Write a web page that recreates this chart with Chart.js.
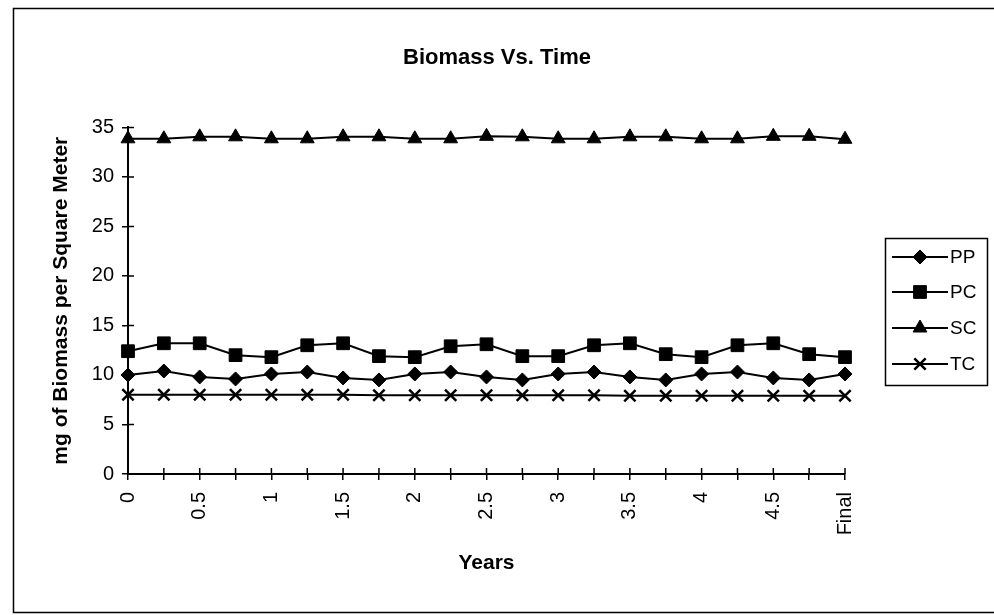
<!DOCTYPE html>
<html>
<head>
<meta charset="utf-8">
<title>Biomass Vs. Time</title>
<script src="https://cdn.jsdelivr.net/npm/chart.js@4.4.0/dist/chart.umd.min.js"></script>
<style>
  html, body { margin: 0; padding: 0; background: #fff; }
  #wrap { position: relative; width: 994px; height: 615px; }
</style>
</head>
<body>
<div id="wrap"><canvas id="biomassChart" width="994" height="615"></canvas></div>
<script>
// categories on the x axis (every quarter year, plus the final sample)
var years = ['0', '0.25', '0.5', '0.75', '1', '1.25', '1.5', '1.75', '2', '2.25',
	'2.5', '2.75', '3', '3.25', '3.5', '3.75', '4', '4.25', '4.5', '4.75', 'Final'];

// values (mg per square meter)
var pp = [10.0, 10.4, 9.8, 9.6, 10.1, 10.3, 9.7, 9.5, 10.1, 10.3,
	9.8, 9.5, 10.1, 10.3, 9.8, 9.5, 10.1, 10.3, 9.7, 9.5, 10.1];
var pc = [12.4, 13.2, 13.2, 12.0, 11.8, 13.0, 13.2, 11.9, 11.8, 12.9,
	13.1, 11.9, 11.9, 13.0, 13.2, 12.1, 11.8, 13.0, 13.2, 12.1, 11.8];
var sc = [33.85, 33.85, 34.05, 34.05, 33.85, 33.85, 34.05, 34.05, 33.85, 33.85,
	34.1, 34.05, 33.85, 33.85, 34.05, 34.05, 33.85, 33.85, 34.1, 34.1, 33.8];
var tc = [8.0, 8.0, 8.0, 8.0, 8.0, 8.0, 8.0, 7.95, 7.95, 7.95,
	7.95, 7.95, 7.95, 7.95, 7.9, 7.9, 7.9, 7.9, 7.9, 7.9, 7.9];

var seriesNames = ['PP', 'PC', 'SC', 'TC'];
var yMax = 35;
var yStep = 5;

var FONT = 'Arial, "Liberation Sans", sans-serif';

function series(label, data, style, radius, pointBorder) {
	return {
		label: label,
		data: data,
		borderColor: '#000',
		backgroundColor: '#000',
		borderWidth: 2,
		pointStyle: style,
		pointRadius: radius,
		pointBorderWidth: pointBorder,
		pointBackgroundColor: '#000',
		pointBorderColor: '#000',
		tension: 0,
		fill: false,
		clip: false
	};
}

// page frame around the whole chart, like the printed sheet
var framePlugin = {
	id: 'frame',
	beforeDraw: function (chart) {
		var ctx = chart.ctx;
		ctx.save();
		ctx.fillStyle = '#fff';
		ctx.fillRect(0, 0, chart.width, chart.height);
		ctx.strokeStyle = '#000';
		ctx.lineWidth = 1.5;
		ctx.strokeRect(13.5, 8.5, 1000, 604);
		ctx.restore();
	}
};

// excel style "cross" tick marks: add the half that sits inside the plot
var crossTicks = {
	id: 'crossTicks',
	afterDraw: function (chart) {
		var ctx = chart.ctx;
		var xs = chart.scales.x;
		var ys = chart.scales.y;
		var area = chart.chartArea;
		ctx.save();
		ctx.strokeStyle = '#000';
		ctx.lineWidth = 1.5;
		ctx.beginPath();
		xs.ticks.forEach(function (t, i) {
			var px = xs.getPixelForTick(i);
			ctx.moveTo(px, area.bottom);
			ctx.lineTo(px, area.bottom - 6);
		});
		ys.ticks.forEach(function (t, i) {
			var py = ys.getPixelForTick(i);
			ctx.moveTo(area.left, py);
			ctx.lineTo(area.left + 6, py);
		});
		ctx.stroke();
		ctx.restore();
	}
};

// boxed legend with line + marker samples
var boxLegend = {
	id: 'boxLegend',
	afterDraw: function (chart) {
		var ctx = chart.ctx;
		var box = { x: 885, y: 238, w: 102, h: 147 };
		var rowY = [257, 292, 328, 364];
		ctx.save();
		ctx.strokeStyle = '#000';
		ctx.lineWidth = 1.5;
		ctx.strokeRect(box.x + 0.5, box.y + 0.5, box.w, box.h);
		ctx.font = '19px ' + FONT;
		ctx.textBaseline = 'middle';
		ctx.textAlign = 'left';
		chart.data.datasets.forEach(function (ds, i) {
			var y = rowY[i];
			ctx.strokeStyle = '#000';
			ctx.fillStyle = '#000';
			ctx.lineWidth = 2;
			ctx.beginPath();
			ctx.moveTo(892, y);
			ctx.lineTo(948, y);
			ctx.stroke();
			ctx.lineWidth = ds.pointBorderWidth;
			Chart.helpers.drawPoint(ctx, {
				pointStyle: ds.pointStyle,
				radius: ds.pointRadius,
				rotation: 0,
				borderWidth: ds.pointBorderWidth
			}, 920, y);
			ctx.fillStyle = '#000';
			ctx.fillText(ds.label, 950, y + 1);
		});
		ctx.restore();
	}
};

var ctx = document.getElementById('biomassChart').getContext('2d');

var chart = new Chart(ctx, {
	type: 'line',
	data: {
		labels: years,
		datasets: [
			series(seriesNames[0], pp, 'rectRot', 7, 1),
			series(seriesNames[1], pc, 'rect', 9, 1),
			series(seriesNames[2], sc, 'triangle', 8, 1),
			series(seriesNames[3], tc, 'crossRot', 8, 2.5)
		]
	},
	options: {
		responsive: false,
		animation: false,
		devicePixelRatio: 1,
		layout: { padding: 0 },
		plugins: {
			legend: { display: false },
			tooltip: { enabled: false },
			title: {
				display: true,
				text: 'Biomass Vs. Time',
				color: '#000',
				font: { family: FONT, size: 22, weight: 'bold' },
				padding: { top: 45, bottom: 56 }
			}
		},
		scales: {
			x: {
				type: 'category',
				offset: false,
				grid: { drawOnChartArea: false, drawTicks: true, tickLength: 6, color: '#000', lineWidth: 1.5 },
				border: { color: '#000', width: 2 },
				ticks: {
					autoSkip: false,
					minRotation: 90,
					maxRotation: 90,
					padding: 12,
					color: '#000',
					font: { family: FONT, size: 20 },
					callback: function (v, i) {
						// only every half year is labelled (Final falls on an even index)
						return i % 2 === 0 ? this.getLabelForValue(v) : '';
					}
				},
				title: {
					display: true,
					text: 'Years',
					color: '#000',
					font: { family: FONT, size: 21, weight: 'bold' },
					padding: { top: 0, bottom: 39 }
				},
				afterFit: function (scale) { scale.height = 141; }
			},
			y: {
				min: 0,
				max: yMax,
				grid: { drawOnChartArea: false, drawTicks: true, tickLength: 6, color: '#000', lineWidth: 1.5 },
				border: { color: '#000', width: 2 },
				ticks: {
					stepSize: yStep,
					padding: 8,
					color: '#000',
					font: { family: FONT, size: 20 }
				},
				title: {
					display: true,
					text: 'mg of Biomass per Square Meter',
					color: '#000',
					font: { family: FONT, size: 21, weight: 'bold' },
					padding: { top: 49, bottom: 0 }
				},
				afterFit: function (scale) { scale.width = 128; }
			},
			// empty right-hand box that keeps room for the legend
			y2: {
				position: 'right',
				display: true,
				grid: { display: false },
				border: { display: false },
				ticks: { display: false },
				afterFit: function (scale) { scale.width = 149; }
			}
		}
	},
	plugins: [framePlugin, crossTicks, boxLegend]
});
</script>
</body>
</html>
